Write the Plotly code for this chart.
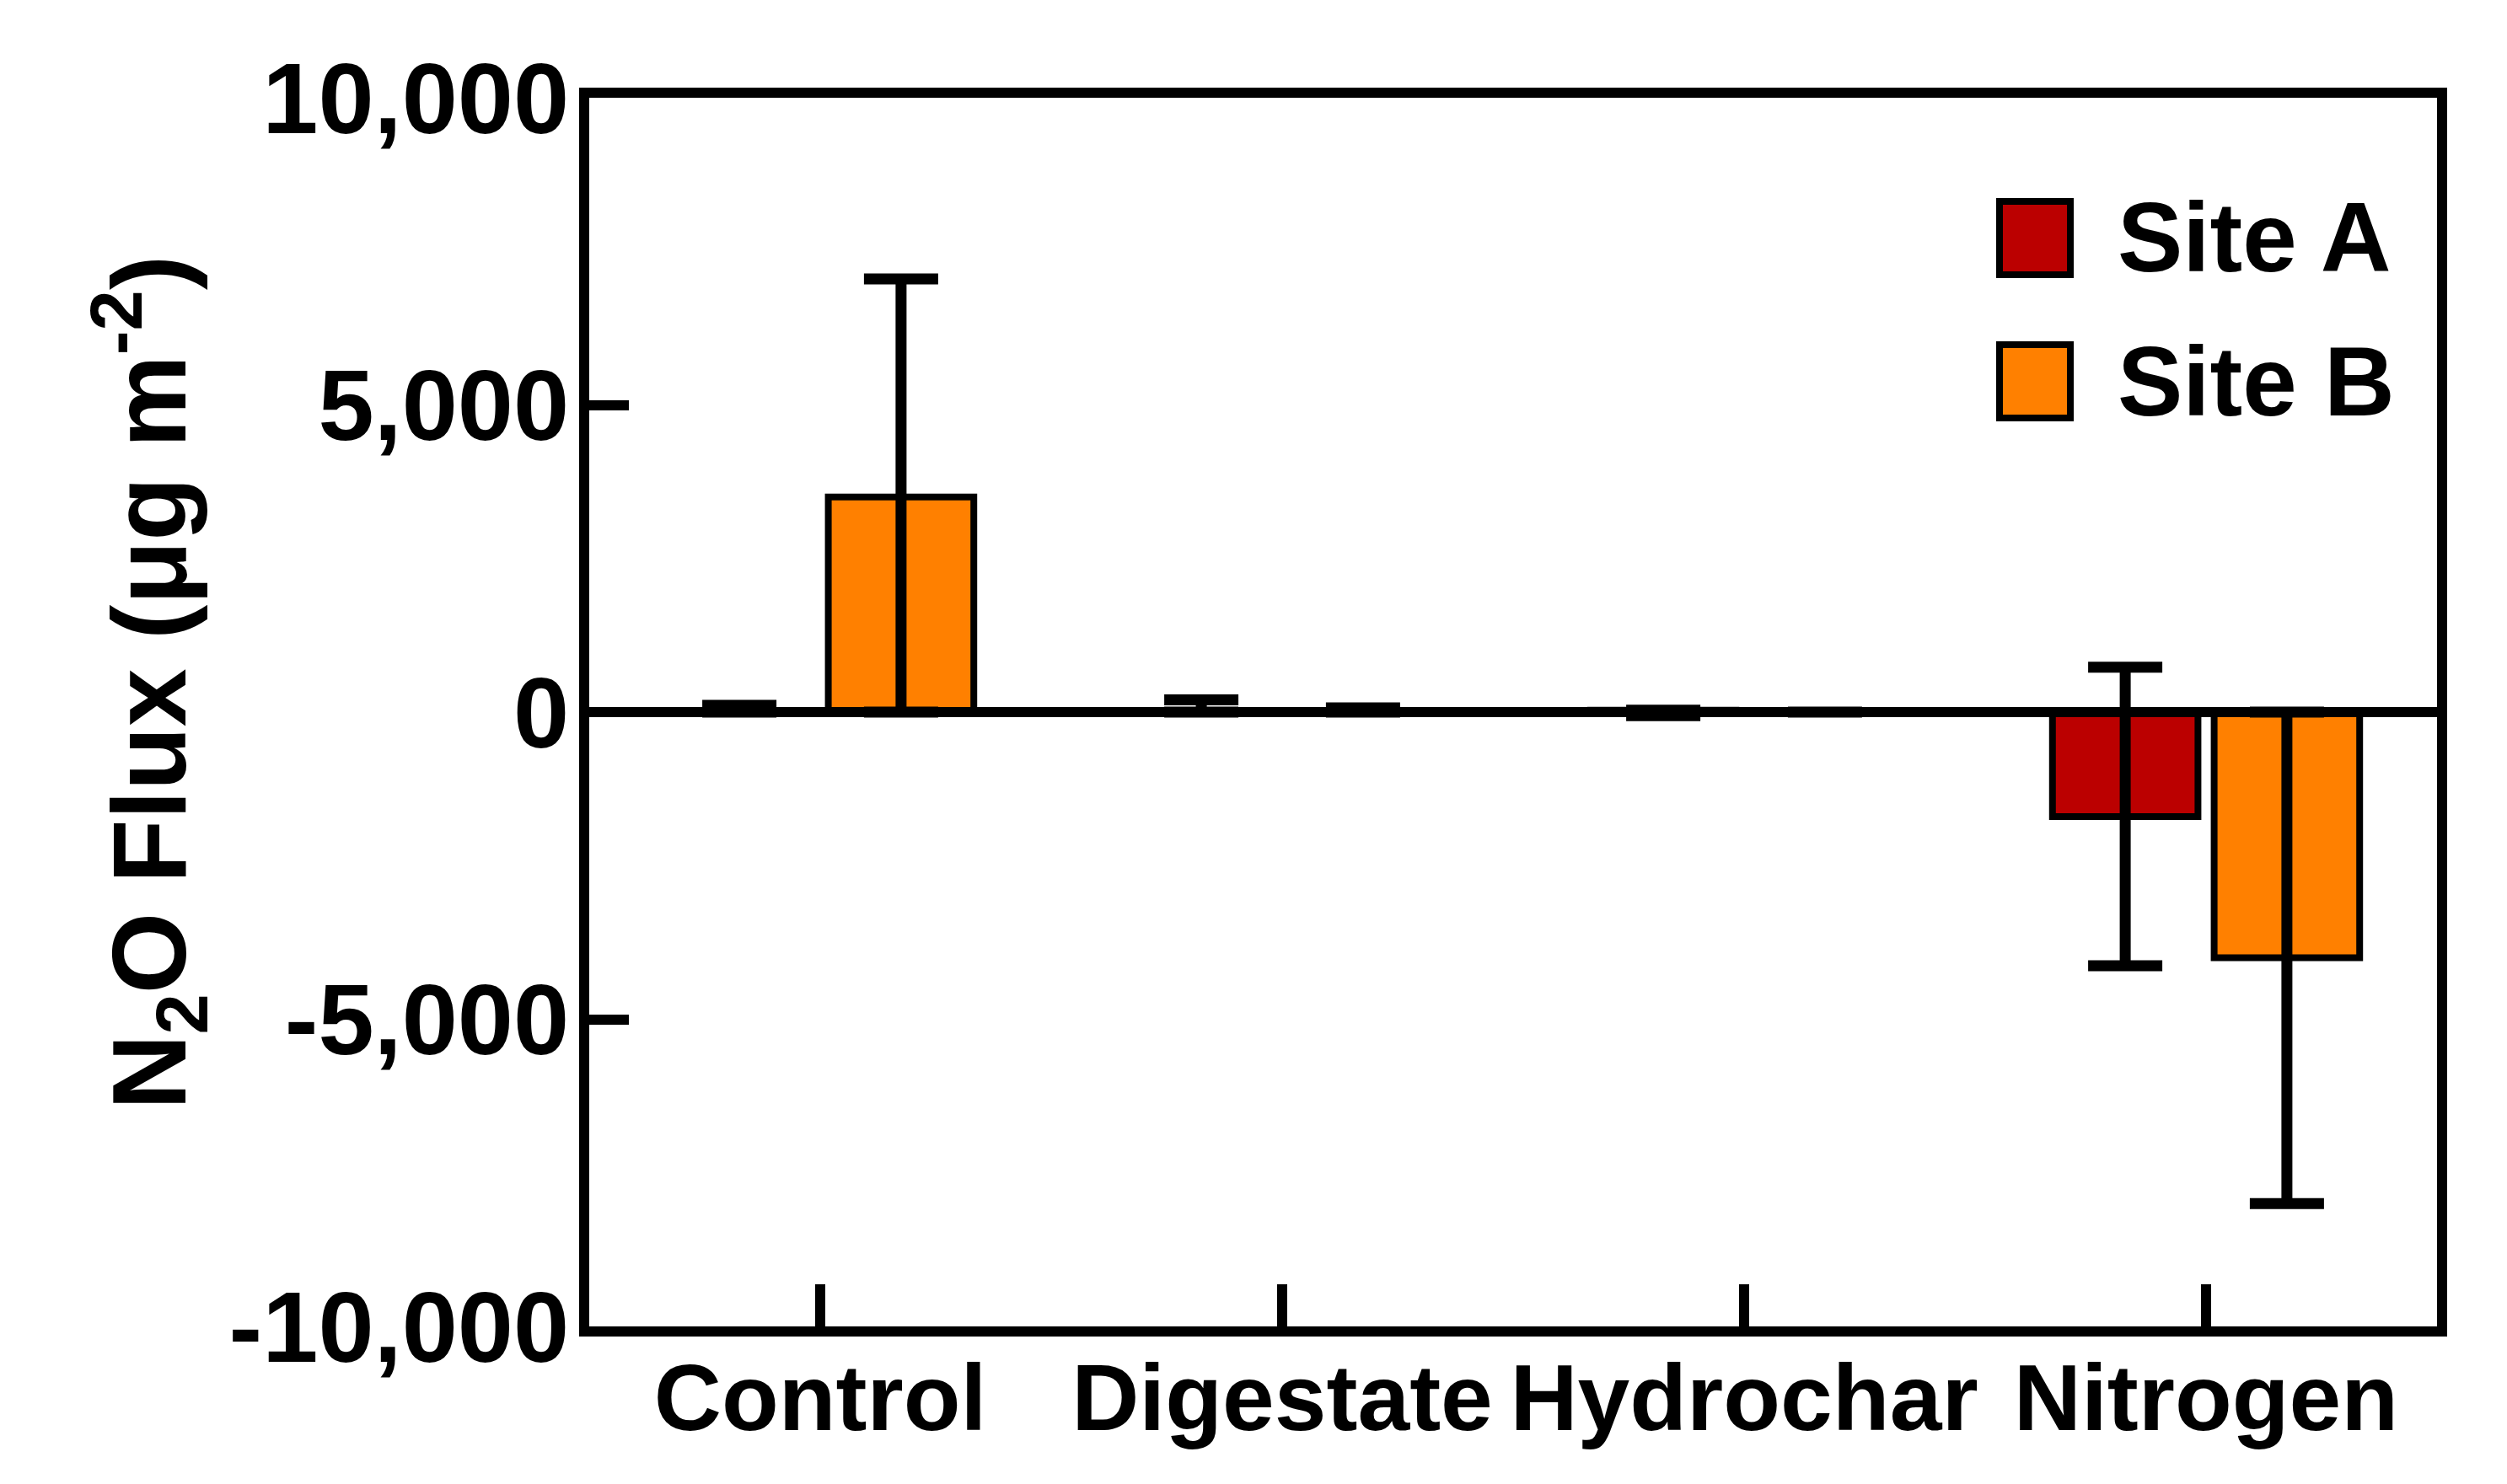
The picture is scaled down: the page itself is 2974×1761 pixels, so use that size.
import plotly.graph_objects as go

categories = ["Control", "Digestate", "Hydrochar", "Nitrogen"]
series_names = ["Site A", "Site B"]
site_a = [0, 0, 30, -1700]
site_a_err_plus = [110, 200, 0, 2430]
site_a_err_minus = [0, 0, 90, 2430]
site_b = [3500, 0, 0, -4000]
site_b_err_plus = [3550, 70, 0, 4000]
site_b_err_minus = [3500, 0, 0, 4000]
colors = ["#BB0000", "#FF8000"]
y_tick_vals = [-10000, -5000, 0, 5000, 10000]
y_tick_text = ["-10,000", "-5,000", "0", "5,000", "10,000"]

FONT = "Liberation Sans, Arial, Helvetica, sans-serif"
W, H = 2974, 1761
OFF = 8  # default page body margin in the browser
# desired on-screen plot box
X_LEFT, X_RIGHT, Y_TOP, Y_BOT = 699, 2891, 116, 1574
L = X_LEFT - OFF
R = W - X_RIGHT + OFF
T = Y_TOP - OFF
B = H - Y_BOT + OFF
PW, PH = X_RIGHT - X_LEFT, Y_BOT - Y_TOP


def px_x(v):
    return (v - X_LEFT) / PW


def px_y(v):
    return (Y_BOT - v) / PH


fig = go.Figure()
for name, vals, ep, em, col in zip(
    series_names, [site_a, site_b], [site_a_err_plus, site_b_err_plus],
    [site_a_err_minus, site_b_err_minus], colors
):
    fig.add_trace(go.Bar(
        x=categories, y=vals, name=name,
        marker=dict(color=col, line=dict(color="black", width=8)),
        error_y=dict(type="data", symmetric=False, array=ep, arrayminus=em,
                     visible=True, color="black", thickness=13, width=44),
        showlegend=False,
    ))

fig.update_layout(
    width=W, height=H,
    margin=dict(l=L, r=R, t=T, b=B, pad=0),
    plot_bgcolor="white", paper_bgcolor="white",
    barmode="group", bargap=0.30, bargroupgap=0.10,
    font=dict(family=FONT, color="black", size=110, weight="bold"),
)
fig.update_xaxes(
    showline=True, linewidth=12, linecolor="black", mirror=True,
    ticks="inside", ticklen=50, tickwidth=12, tickcolor="black",
    tickfont=dict(family=FONT, size=111, color="black", weight="bold"),
    ticklabelstandoff=-22,
    showgrid=False, zeroline=False, range=[-0.5, 3.5],
)
fig.update_yaxes(
    range=[-10000, 10000], tickvals=y_tick_vals, ticktext=y_tick_text,
    showline=True, linewidth=12, linecolor="black", mirror=True,
    ticks="inside", ticklen=47, tickwidth=12, tickcolor="black",
    tickfont=dict(family=FONT, size=119, color="black", weight="bold"),
    ticklabelstandoff=-12,
    showgrid=False, zeroline=False,
)
# zero line drawn above bars
fig.add_shape(type="line", xref="paper", x0=0, x1=1, yref="y", y0=0, y1=0,
              line=dict(color="black", width=12), layer="above")

# y-axis title
fig.add_annotation(
    xref="paper", yref="paper", x=px_x(176), y=px_y(810),
    text="N<sub>2</sub>O Flux (μg m<sup>-2</sup>)", textangle=-90, showarrow=False,
    font=dict(family=FONT, size=124, color="black", weight="bold"),
    xanchor="center", yanchor="middle",
)

# legend drawn manually
leg_rows = [(239, 326), (409, 496)]
for (y_top, y_bot), name, col in zip(leg_rows, series_names, colors):
    fig.add_shape(type="rect", xref="paper", yref="paper",
                  x0=px_x(2372), x1=px_x(2456), y0=px_y(y_bot), y1=px_y(y_top),
                  fillcolor=col, line=dict(color="black", width=8))
    fig.add_annotation(xref="paper", yref="paper", x=px_x(2510), y=px_y((y_top + y_bot) / 2),
                       text=name, showarrow=False, xanchor="left", yanchor="middle",
                       font=dict(family=FONT, size=116, color="black", weight="bold"))

fig.write_html("out.html")
